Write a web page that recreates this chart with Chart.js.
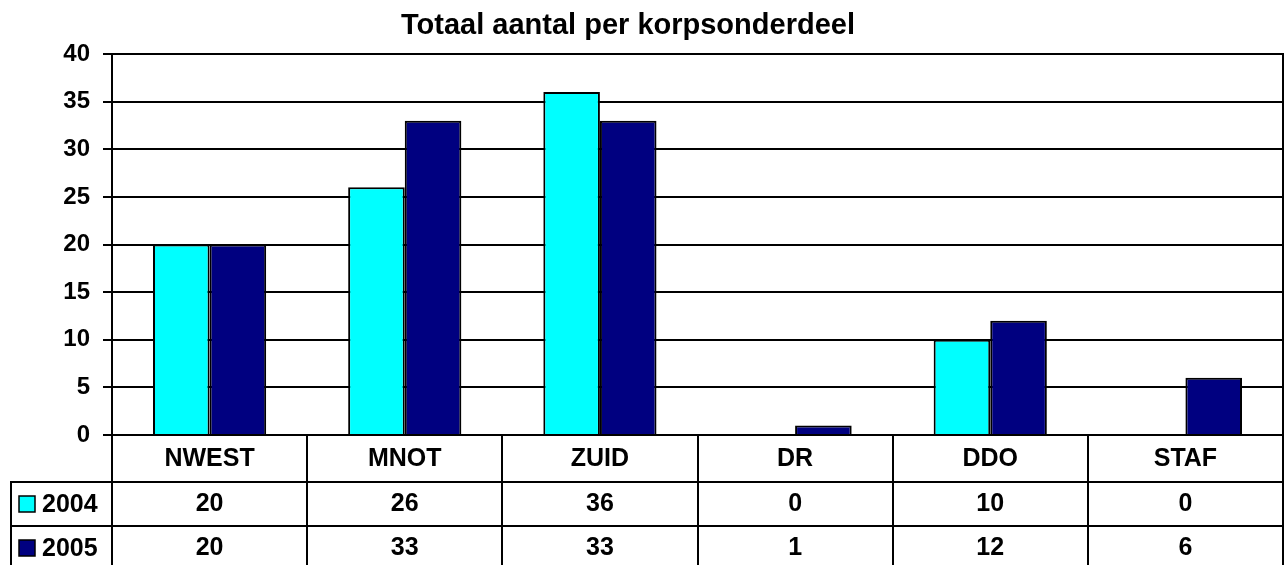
<!DOCTYPE html>
<html>
<head>
<meta charset="utf-8">
<script src="https://cdn.jsdelivr.net/npm/chart.js@4/dist/chart.umd.min.js"></script>
<style>
  body { margin: 0; background: #fff; }
  #wrap { position: relative; width: 1288px; height: 565px; }
</style>
</head>
<body>
<div id="wrap"><canvas id="chart"></canvas></div>
<script>
// gegevens
const categories = ["NWEST", "MNOT", "ZUID", "DR", "DDO", "STAF"];
const seriesNames = ["2004", "2005"];
const values2004 = [20, 26, 36, 0, 10, 0];
const values2005 = [20, 33, 33, 1, 12, 6];
const seriesColors = ["#00FFFF", "#000080"];
const titleText = "Totaal aantal per korpsonderdeel";

const FONT = "'Liberation Sans', Arial, sans-serif";

// titel + gegevenstabel onder de grafiek
const tablePlugin = {
  id: "dataTable",
  afterDraw(chart) {
    const ctx = chart.ctx;
    const area = chart.chartArea;
    const x = chart.scales.x;
    const n = categories.length;
    const step = (area.right - area.left) / n;
    const headerBottom = area.bottom + 47;
    const rowH = 44;
    const legendLeft = 11;

    ctx.save();
    ctx.fillStyle = "#000";
    ctx.font = "bold 29px " + FONT;
    ctx.textAlign = "center";
    ctx.textBaseline = "middle";
    ctx.fillText(titleText, 628, 26);

    ctx.strokeStyle = "#000";
    ctx.lineWidth = 2;
    ctx.beginPath();
    // rechterrand plot + tabel
    ctx.moveTo(area.right, area.top - 1);
    ctx.lineTo(area.right, chart.height);
    // verticale lijnen van de tabel
    for (let i = 0; i < n; i++) {
      const xl = Math.round(area.left + i * step);
      ctx.moveTo(xl, area.bottom);
      ctx.lineTo(xl, chart.height);
    }
    // legendakolom
    ctx.moveTo(legendLeft, headerBottom);
    ctx.lineTo(legendLeft, chart.height);
    // horizontale lijnen
    ctx.moveTo(legendLeft - 1, headerBottom);
    ctx.lineTo(area.right, headerBottom);
    ctx.moveTo(legendLeft - 1, headerBottom + rowH);
    ctx.lineTo(area.right, headerBottom + rowH);
    ctx.stroke();

    ctx.font = "bold 25px " + FONT;
    ctx.textAlign = "center";
    categories.forEach((c, i) => {
      const cx = x.getPixelForValue(i);
      ctx.fillText(c, cx, area.bottom + 24);
      ctx.fillText(String(values2004[i]), cx, headerBottom + rowH / 2);
      ctx.fillText(String(values2005[i]), cx, headerBottom + rowH + rowH / 2);
    });

    // legenda in tabel
    ctx.textAlign = "left";
    seriesNames.forEach((s, j) => {
      const cy = headerBottom + rowH * j + rowH / 2;
      ctx.fillStyle = seriesColors[j];
      ctx.fillRect(19, cy - 8, 16, 16);
      ctx.lineWidth = 1.5;
      ctx.strokeRect(19, cy - 8, 16, 16);
      ctx.fillStyle = "#000";
      ctx.fillText(s, 42, cy + 1);
    });
    ctx.restore();
  }
};

const ctx = document.getElementById("chart").getContext("2d");
const chart = new Chart(ctx, {
  type: "bar",
  data: {
    labels: categories,
    datasets: [
      {
        label: seriesNames[0],
        data: values2004,
        backgroundColor: seriesColors[0],
        borderColor: "#000",
        borderWidth: 2
      },
      {
        label: seriesNames[1],
        data: values2005,
        backgroundColor: seriesColors[1],
        borderColor: "#000",
        borderWidth: 2
      }
    ]
  },
  options: {
    responsive: true,
    maintainAspectRatio: false,
    animation: false,
    layout: {
      padding: { top: 54, right: 5, bottom: 130, left: 0 }
    },
    datasets: {
      bar: { categoryPercentage: 0.58, barPercentage: 1 }
    },
    plugins: {
      legend: { display: false },
      title: { display: false },
      tooltip: { enabled: false }
    },
    scales: {
      x: {
        display: false
      },
      y: {
        min: 0,
        max: 40,
        afterFit(scale) { scale.width = 112; },
        ticks: {
          stepSize: 5,
          color: "#000",
          padding: 13,
          font: { family: FONT, size: 24, weight: "bold" }
        },
        grid: {
          color: "#000",
          lineWidth: 2,
          tickLength: 9
        },
        border: { color: "#000", width: 2 }
      }
    }
  },
  plugins: [tablePlugin]
});
</script>
</body>
</html>
